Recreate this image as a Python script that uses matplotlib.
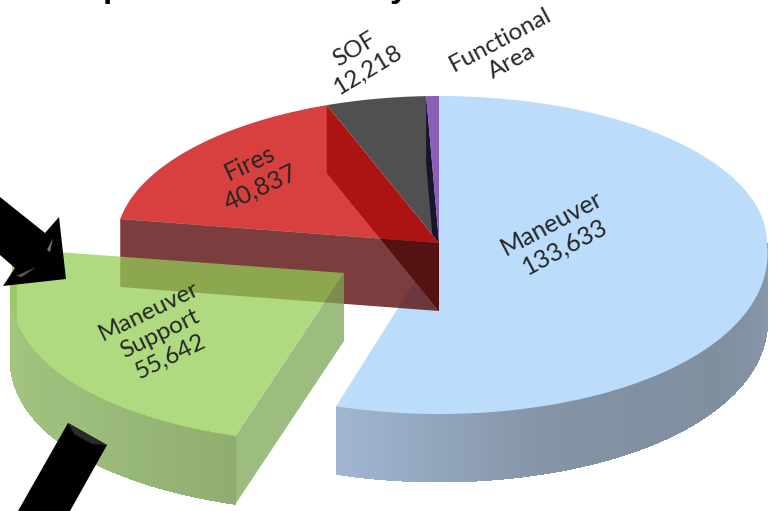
import numpy as np
import matplotlib
matplotlib.use('Agg')
import matplotlib.pyplot as plt
from matplotlib.patches import Polygon
from matplotlib.colors import to_rgb

# slices, going counter clockwise from 12 o'clock
names = ['Functional\nArea', 'SOF\n12,218', 'Fires\n40,837', 'Maneuver\nSupport\n55,642', 'Maneuver\n133,633']
values = [1550, 12218, 40837, 55642, 133633]

## pie geometry in pixels
CX, CY = 439, 243
RX = 328
RY_BACK, RY_FRONT = 147, 171
DEPTH = 68
EXPLODE_X, EXPLODE_Y = -95, 30

fig = plt.figure(figsize=(7.72, 5.11), dpi=100)
ax = fig.add_axes([0, 0, 1, 1])
ax.set_xlim(0, 772)
ax.set_ylim(511, 0)
ax.axis('off')


## angle is degrees counter clockwise from the top, front of the pie is squashed less
def rim(angle, dx=0, dy=0):
    a = np.radians(angle)
    s, c = np.sin(a), np.cos(a)
    front = np.clip(-c, 0, 1)
    if dx == 0:
        rx = RX * (1 + 0.06 * front)
        rx = np.where((s > 0) & (c > 0), RX * 0.985, rx)
    else:
        rx = RX * (1.012 + 0.11 * front)
    ry = np.where(c > 0, RY_BACK, RY_FRONT)
    return CX - rx * s + dx, CY - ry * c + dy


def top_face(a0, a1, dx=0, dy=0):
    t = np.linspace(a0, a1, 200)
    x, y = rim(t, dx, dy)
    return np.vstack([[CX + dx, CY + dy], np.column_stack([x, y])])


def rim_wall(a0, a1, stops, dx=0, dy=0):
    ## outer wall as thin strips so the shading runs along it
    t = np.linspace(a0, a1, 160)
    cols = np.array([to_rgb(c) for c in stops])
    pos = np.linspace(0, 1, len(stops))
    for i in range(len(t) - 1):
        x0, y0 = rim(t[i], dx, dy)
        x1, y1 = rim(t[min(i + 2, len(t) - 1)], dx, dy)
        f = i / (len(t) - 2)
        col = [np.interp(f, pos, cols[:, k]) for k in range(3)]
        ax.add_patch(Polygon([[x0, y0], [x1, y1], [x1, y1 + DEPTH], [x0, y0 + DEPTH]],
                             fc=col, ec='none', antialiased=False))


share = np.cumsum([0] + values) / sum(values) * 360
fa_a, sof_a, fires_a, sup_a, man_a = zip(share[:-1], share[1:])

## Maneuver (blue)
rim_wall(270, man_a[0], ['#8a9aad', '#808f9e', '#8493a5', '#a0b6d2'])
ax.add_patch(Polygon(top_face(man_a[0], man_a[1]), fc='#bbdcfb', ec='none'))

## SOF and Functional Area
ax.add_patch(Polygon(top_face(sof_a[0], sof_a[1]), fc='#505050', ec='none'))
ax.add_patch(Polygon(top_face(fa_a[0], fa_a[1]), fc='#8a5db8', ec='none'))

## wall between Functional Area and SOF shows as a dark sliver
x, y = rim(fa_a[1])
sliver = Polygon([[x, y], [x, y + DEPTH], [CX, CY + DEPTH], [CX, CY]], fc='#16162a', ec='none')
ax.add_patch(sliver)
sliver.set_clip_path(Polygon(top_face(sof_a[0], sof_a[1]), transform=ax.transData))

## Fires (red), see-through
ax.add_patch(Polygon(top_face(fires_a[0], fires_a[1]), fc='#d84040', ec='none'))
x, y = rim(fires_a[1])
cut = [[CX, CY], [x, y], [x, y + DEPTH], [CX, CY + DEPTH]]
ax.add_patch(Polygon(cut, fc=(91 / 255, 12 / 255, 14 / 255, 0.8), ec='none'))

## inner wall of Fires seen through its top and its front cut
x, y = rim(fires_a[0])
inner = [[x, y], [x, y + DEPTH], [CX, CY + DEPTH], [CX, CY]]
p1 = Polygon(inner, fc='#ac1414', ec='none')
ax.add_patch(p1)
p1.set_clip_path(Polygon(top_face(fires_a[0], fires_a[1]), transform=ax.transData))
p2 = Polygon(inner, fc='#551212', ec='none')
ax.add_patch(p2)
p2.set_clip_path(Polygon(cut, transform=ax.transData))

## Maneuver Support (green), pulled out of the pie
rim_wall(sup_a[0], sup_a[1], ['#a6c880', '#a2c47e', '#9cbc7c', '#8fae70'], EXPLODE_X, EXPLODE_Y)
x, y = rim(sup_a[1], EXPLODE_X, EXPLODE_Y)
ax.add_patch(Polygon([[CX + EXPLODE_X, CY + EXPLODE_Y], [x, y], [x, y + DEPTH],
                      [CX + EXPLODE_X, CY + EXPLODE_Y + DEPTH]],
                     fc=(124 / 255, 166 / 255, 84 / 255, 0.75), ec='none'))
ax.add_patch(Polygon(top_face(sup_a[0], sup_a[1], EXPLODE_X, EXPLODE_Y),
                     fc=(148 / 255, 205 / 255, 84 / 255, 0.74), ec='none'))

## black arrows pasted on top
ax.add_patch(Polygon([[0, 197], [45, 233], [59, 217], [66, 279], [3, 286], [15, 268], [0, 255]], fc='black', ec='none'))
ax.add_patch(Polygon([[47, 250], [53, 238], [50, 252]], fc='#777777', ec='none'))
ax.add_patch(Polygon([[16, 276], [36, 267], [22, 277]], fc='#555555', ec='none'))
ax.add_patch(Polygon([[68, 423], [107, 445], [70, 511], [18, 511]], fc='black', ec='none'))
ax.add_patch(Polygon([[68, 423], [107, 445], [92, 444], [74, 434]], fc='#2b2b2b', ec='none'))

## labels
font = 'Lato'
style = dict(ha='center', va='center', rotation_mode='anchor', color='#262626', family=font,
             linespacing=1.22, multialignment='center')
ax.text(558, 235, names[4], rotation=28, fontsize=18, **style)
ax.text(255, 175, names[2], rotation=25, fontsize=18, **style)
ax.text(160, 334, names[3], rotation=26, fontsize=17.5, **style)
ax.text(361, 60, names[1], rotation=31, fontsize=17.5, **style)
ax.text(506, 51, names[0], rotation=28, fontsize=17.5, **style)

## what is left of the cropped title
ax.text(113, -3, 'p', ha='center', va='baseline', fontsize=24, fontweight='bold', color='black', family='Liberation Sans')
ax.text(399, -3, 'y', ha='center', va='baseline', fontsize=24, fontweight='bold', color='black', family='Liberation Sans')

fig.savefig('out.png', dpi=100)
